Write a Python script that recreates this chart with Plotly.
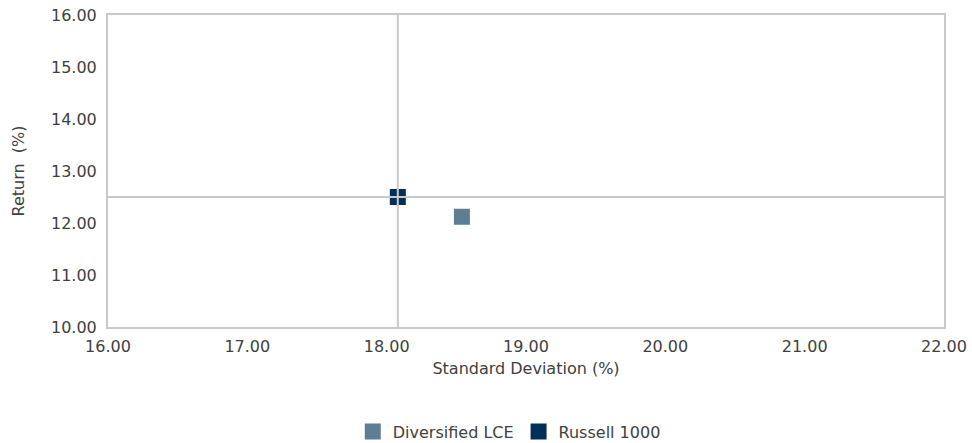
import plotly.graph_objects as go

series_names = ["Diversified LCE", "Russell 1000"]
std_dev = [18.54, 18.08]
returns = [12.12, 12.50]
colors = ["#5E7F93", "#003057"]
x_range = [16, 22]
y_range = [10, 16]
benchmark_index = 1

FONT = "DejaVu Sans"
TXT = "#404040"
LINE = "#C9C9C9"
FS = 16

fig = go.Figure()
for name, x, y, c in zip(series_names, std_dev, returns, colors):
    fig.add_trace(go.Scatter(
        x=[x], y=[y], mode="markers", name=name,
        marker=dict(symbol="square", size=16, color=c, line=dict(width=0)),
    ))

bx, by = std_dev[benchmark_index], returns[benchmark_index]
fig.add_shape(type="line", xref="x", yref="paper", x0=bx, x1=bx, y0=0, y1=1,
              line=dict(color=LINE, width=2), layer="above")
fig.add_shape(type="line", xref="paper", yref="y", x0=0, x1=1, y0=by, y1=by,
              line=dict(color=LINE, width=2), layer="above")

fig.update_layout(
    width=972, height=443,
    margin=dict(l=108, r=28, t=15, b=116, autoexpand=False),
    paper_bgcolor="white", plot_bgcolor="white",
    font=dict(family=FONT, size=FS, color=TXT),
    showlegend=True,
    legend=dict(orientation="h", x=0.48, xanchor="center", y=-0.335, yanchor="middle",
                font=dict(family=FONT, size=FS, color=TXT),
                tracegroupgap=0),
)
fig.update_xaxes(
    range=x_range, dtick=1, tickformat=".2f", showgrid=False, zeroline=False,
    showline=True, mirror=True, linecolor=LINE, linewidth=2,
    ticks="", ticklabelstandoff=4, automargin=False, ticklabeloverflow="allow",
    title=dict(text="Standard Deviation (%)", standoff=8, font=dict(size=FS, color=TXT)),
    tickfont=dict(size=FS, color=TXT),
)
fig.update_yaxes(
    range=y_range, dtick=1, tickformat=".2f", showgrid=False, zeroline=False,
    showline=True, mirror=True, linecolor=LINE, linewidth=2,
    ticks="", ticklabelstandoff=6, automargin=False, ticklabeloverflow="allow",
    title=dict(text="Return  (%)", standoff=22, font=dict(size=FS, color=TXT)),
    tickfont=dict(size=FS, color=TXT),
)

fig.write_html("out.html", config={"displayModeBar": False},
               post_script="document.body.style.margin='0';")
